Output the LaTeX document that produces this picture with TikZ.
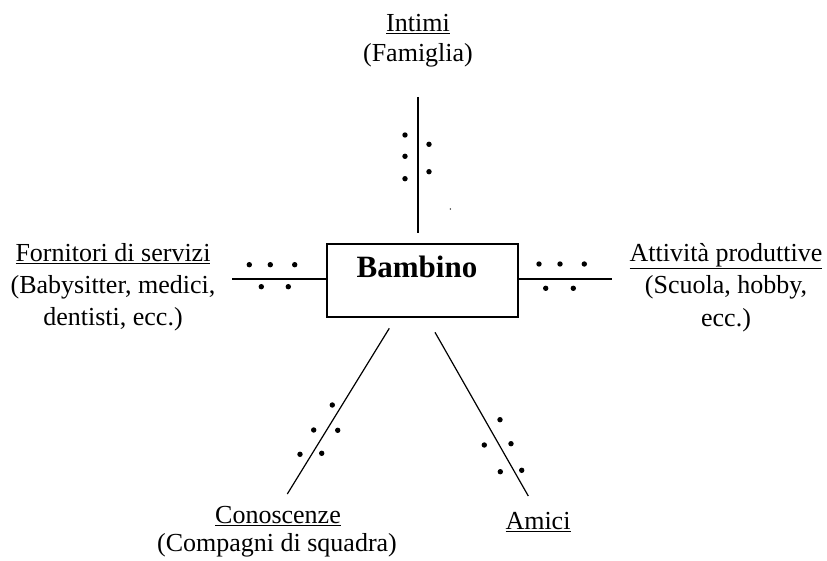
\documentclass[tikz,border=0pt]{standalone}
\usepackage{fontspec}
\setmainfont{Liberation Serif}
\begin{document}
\begin{tikzpicture}[x=1pt,y=-1pt,
  lbl/.style={anchor=base,inner sep=0pt,font=\fontsize{26}{31}\selectfont},
  boxst/.style={draw,line width=1.7pt,minimum width=191.6pt,minimum height=72.6pt,inner sep=0pt},
  spoke/.style={line width=1.8pt},
  diag/.style={line width=1.2pt},
  dotst/.style={fill=black,draw=none}]
\useasboundingbox (0,0) rectangle (827,561);
\fill[white] (0,0) rectangle (827,561);
% central box
\node[boxst] (b) at (422.5,280.5) {};
\node[anchor=base,inner sep=0pt,font=\fontsize{31}{36}\selectfont\bfseries] (bt) at (417,278) {Bambino};
% labels
\node[lbl] (i1) at (418,31.7) {\underline{Intimi}};
\node[lbl] (i2) at (418,61.7) {(Famiglia)};
\node[lbl] (f1) at (113,261.7) {\underline{Fornitori di servizi}};
\node[lbl] (f2) at (113,293.3) {(Babysitter, medici,};
\node[lbl] (f3) at (113,325) {dentisti, ecc.)};
\node[lbl] (a1) at (726,261.7) {\underline{Attività produttive}};
\node[lbl] (a2) at (726,294) {(Scuola, hobby,};
\node[lbl] (a3) at (726,326) {ecc.)};
\node[lbl] (c1) at (278,523.3) {\underline{Conoscenze}};
\node[lbl] (c2) at (277,551.7) {(Compagni di squadra)};
\node[lbl] (m1) at (538,529.3) {\underline{Amici}};
% spoke end points
\coordinate (tT) at (418.3,97);
\coordinate (tB) at (418.3,233);
\coordinate (lE) at (232.3,278.7);
\coordinate (rE) at (611.7,278.7);
\coordinate (dlT) at (389.3,328.3);
\coordinate (dlB) at (287.3,494);
\coordinate (drT) at (435,332.3);
\coordinate (drB) at (528.3,496);
% spokes
\draw[line width=2.2pt] (tT) -- (tB);
\draw[spoke] (lE) -- (b.west |- lE);
\draw[spoke] (b.east |- rE) -- (rE);
\draw[diag] (dlT) -- (dlB);
\draw[diag] (drT) -- (drB);
% dots top
\foreach \p in {(405,135),(405,156.3),(405,178.7),(429,144.3),(429,171.7)}
  \fill[dotst] \p circle (2.7);
\fill[dotst] (450.3,209) circle (0.7);
% dots left
\foreach \p in {(249.3,264.7),(270.3,264.7),(294.7,264.7),(261.3,286.7),(288.3,286.7)}
  \fill[dotst] \p circle (2.7);
% dots right
\foreach \p in {(539,264),(560,264),(584.3,264),(545.7,288.3),(573.3,288.3)}
  \fill[dotst] \p circle (2.7);
% dots bottom left
\foreach \p in {(332.3,405),(313.7,430),(337.7,430.3),(300,454.3),(321.7,453.3)}
  \fill[dotst] \p circle (2.7);
% dots bottom right
\foreach \p in {(500,419.7),(484.3,445),(511,443.7),(500.3,471.7),(521.7,470.3)}
  \fill[dotst] \p circle (2.7);
\end{tikzpicture}
\end{document}
